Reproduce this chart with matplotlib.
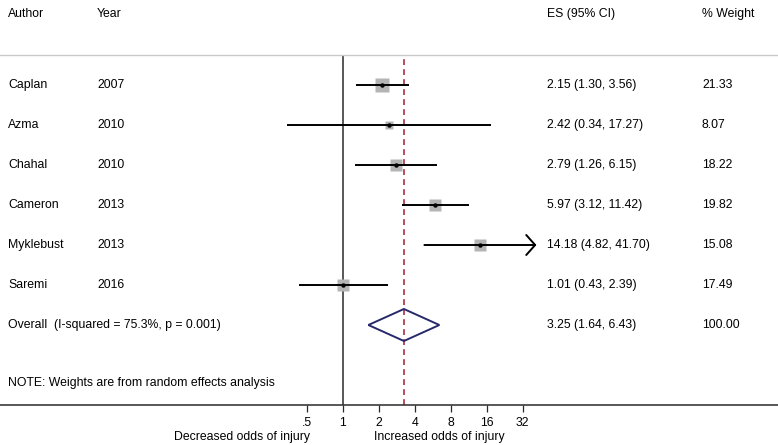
import numpy as np
import matplotlib
matplotlib.use("Agg")
import matplotlib.pyplot as plt
import matplotlib.transforms as mtransforms

plt.rcParams['font.family'] = ['Liberation Sans', 'DejaVu Sans']

# study data
authors = ['Caplan', 'Azma', 'Chahal', 'Cameron', 'Myklebust', 'Saremi']
years = ['2007', '2010', '2010', '2013', '2013', '2016']
es = [2.15, 2.42, 2.79, 5.97, 14.18, 1.01]
lo = [1.30, 0.34, 1.26, 3.12, 4.82, 0.43]
hi = [3.56, 17.27, 6.15, 11.42, 41.70, 2.39]
weights = [21.33, 8.07, 18.22, 19.82, 15.08, 17.49]

# pooled estimate
overall_es = 3.25
overall_lo = 1.64
overall_hi = 6.43
overall_weight = 100.00
overall_label = 'Overall  (I-squared = 75.3%, p = 0.001)'
note = 'NOTE: Weights are from random effects analysis'

xticks = [0.5, 1, 2, 4, 8, 16, 32]
xticklabels = ['.5', '1', '2', '4', '8', '16', '32']

W, H = 778, 445
fs = 8.8
fig = plt.figure(figsize=(W / 100, H / 100), dpi=100)
# axes from the top rule (y=55px) to the bottom axis line (y=405px)
ax = fig.add_axes([0, (H - 405) / H, 1, 350 / H])

# x: log2 scale, 1 sits at 342.7px and one doubling is 36px
ax.set_xscale('log', base=2)
px1, step = 342.7, 36.0
ax.set_xlim(2 ** (-px1 / step), 2 ** ((W - px1) / step))
ax.set_ylim(9, 0.25)

n = len(authors)
rows = np.arange(1, n + 1)
row_overall = n + 1
row_note = 8.45
row_head = -0.775

# null line and overall line
ax.axvline(1, color='#2a2a2a', lw=1.1, zorder=1)
ax.axvline(overall_es, color='#a8303f', lw=1.2, ls=(0, (3.5, 2.5)), zorder=1)

# study CIs, boxes and points
for i in range(n):
    y = rows[i]
    if hi[i] > 32:
        ax.annotate('', xy=(hi[i], y), xytext=(lo[i], y),
                    arrowprops=dict(arrowstyle='->,head_length=0.4,head_width=0.45',
                                    color='black', lw=1.4, shrinkA=0, shrinkB=0,
                                    mutation_scale=16), zorder=3)
    else:
        ax.plot([lo[i], hi[i]], [y, y], color='black', lw=1.4, zorder=3,
                solid_capstyle='butt')
    side_px = 2.85 * np.sqrt(weights[i])
    ax.plot(es[i], y, marker='s', ms=side_px * 0.72, color='#b4b4b4',
            mec='none', zorder=2)
    ax.plot(es[i], y, marker='o', ms=3.2, color='black', mec='none', zorder=4)

# overall diamond
dh = 0.4
ax.fill([overall_lo, overall_es, overall_hi, overall_es, overall_lo],
        [row_overall, row_overall - dh, row_overall, row_overall + dh, row_overall],
        facecolor='none', edgecolor='#27296a', lw=1.4, zorder=3)

# spines and ticks
for s in ['left', 'right']:
    ax.spines[s].set_visible(False)
ax.spines['top'].set_color('#c8c8c8')
ax.spines['top'].set_linewidth(1.0)
ax.spines['bottom'].set_color('#2a2a2a')
ax.spines['bottom'].set_linewidth(1.1)
ax.set_yticks([])
ax.set_xticks(xticks)
ax.set_xticklabels(xticklabels)
ax.xaxis.set_minor_locator(matplotlib.ticker.NullLocator())
ax.tick_params(axis='x', direction='out', length=5, width=0.9, pad=3.5,
               labelsize=fs, color='#2a2a2a')

# text columns
tr = mtransforms.blended_transform_factory(ax.transAxes, ax.transData)
col_author, col_year, col_es, col_w = 8 / W, 97 / W, 547 / W, 702 / W
for x, t in [(col_author, 'Author'), (col_year, 'Year'),
             (col_es, 'ES (95% CI)'), (col_w, '% Weight')]:
    ax.text(x, row_head, t, transform=tr, ha='left', va='center', fontsize=fs,
            clip_on=False)
for i in range(n):
    y = rows[i]
    ax.text(col_author, y, authors[i], transform=tr, va='center', fontsize=fs)
    ax.text(col_year, y, years[i], transform=tr, va='center', fontsize=fs)
    ax.text(col_es, y, '%.2f (%.2f, %.2f)' % (es[i], lo[i], hi[i]),
            transform=tr, va='center', fontsize=fs)
    ax.text(col_w, y, '%.2f' % weights[i], transform=tr, va='center', fontsize=fs)
ax.text(col_author, row_overall, overall_label, transform=tr, va='center', fontsize=fs)
ax.text(col_es, row_overall, '%.2f (%.2f, %.2f)' % (overall_es, overall_lo, overall_hi),
        transform=tr, va='center', fontsize=fs)
ax.text(col_w, row_overall, '%.2f' % overall_weight, transform=tr, va='center',
        fontsize=fs)
ax.text(col_author, row_note, note, transform=tr, va='center', fontsize=fs)

# favours labels below the axis
fig.text(310 / W, 1 - 437 / H, 'Decreased odds of injury', ha='right', va='center',
         fontsize=fs)
fig.text(374 / W, 1 - 437 / H, 'Increased odds of injury', ha='left', va='center',
         fontsize=fs)

fig.savefig('out.png', dpi=100)
